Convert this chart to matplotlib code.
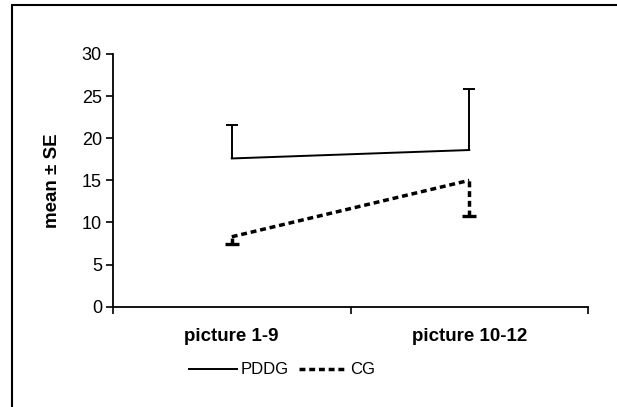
import matplotlib
matplotlib.use("Agg")
import matplotlib.pyplot as plt
from matplotlib.patches import Rectangle
from matplotlib.lines import Line2D

plt.rcParams['font.family'] = ['Liberation Sans', 'DejaVu Sans']

categories = ["picture 1-9", "picture 10-12"]
pddg_mean = [17.6, 18.6]
pddg_se = [4.0, 7.3]
cg_mean = [8.3, 15.0]
cg_se = [0.9, 4.2]

W, H = 617, 407
fig = plt.figure(figsize=(W / 100, H / 100), dpi=100)
ax = fig.add_axes([113 / W, (H - 306.7) / H, (588 - 113) / W, (306.7 - 54) / H])

xpos = [0.5, 1.5]
dot = (0, (1.7, 1.1))

# PDDG: solid line, upper error bars (+SE)
ax.plot(xpos, pddg_mean, color='black', lw=1.4)
pddg_top = [m + s for m, s in zip(pddg_mean, pddg_se)]
ax.vlines(xpos, pddg_mean, pddg_top, color='black', lw=1.4)
ax.plot(xpos, pddg_top, ls='none', marker='_', ms=9, mew=1.4, color='black')

# CG: dotted line, lower error bars (-SE)
ax.plot(xpos, cg_mean, color='black', lw=2.5, linestyle=dot)
cg_bot = [m - s for m, s in zip(cg_mean, cg_se)]
ax.vlines(xpos, cg_bot, cg_mean, color='black', lw=2.5, linestyle=dot)
ax.plot(xpos, cg_bot, ls='none', marker='_', ms=10, mew=2.4, color='black')

ax.set_xlim(0, 2)
ax.set_ylim(0, 30)
ax.set_yticks(range(0, 31, 5))
ax.set_xticks([0, 1, 2])
ax.set_xticklabels([])
ax.set_xticks(xpos, minor=True)
ax.set_xticklabels(categories, minor=True, fontweight='bold', fontsize=13.5)
ax.tick_params(axis='x', which='minor', length=0, pad=15)
ax.tick_params(axis='x', which='major', direction='out', length=5, width=1.2)
ax.tick_params(axis='y', direction='out', length=5, width=1.2, labelsize=13, pad=3)

for s in ['top', 'right']:
    ax.spines[s].set_visible(False)
for s in ['left', 'bottom']:
    ax.spines[s].set_linewidth(1.3)

ax.set_ylabel("mean ± SE", fontweight='bold', fontsize=13.5)
ax.yaxis.set_label_coords(-0.11, 0.5)

handles = [Line2D([0], [0], color='black', lw=1.4),
           Line2D([0], [0], color='black', lw=2.5, linestyle=dot)]
fig.legend(handles, ["PDDG", "CG"], loc='center', bbox_to_anchor=(282 / W, 1 - 370 / H),
           ncol=2, frameon=False, fontsize=12, handlelength=2.9, handletextpad=0.2,
           columnspacing=0.6)

fig.patches.append(Rectangle((11.5 / W, -0.1), 2, (H - 5) / H + 0.1, transform=fig.transFigure,
                             fill=False, lw=1.5, edgecolor='black', clip_on=False))

fig.savefig("out.png", dpi=100)
